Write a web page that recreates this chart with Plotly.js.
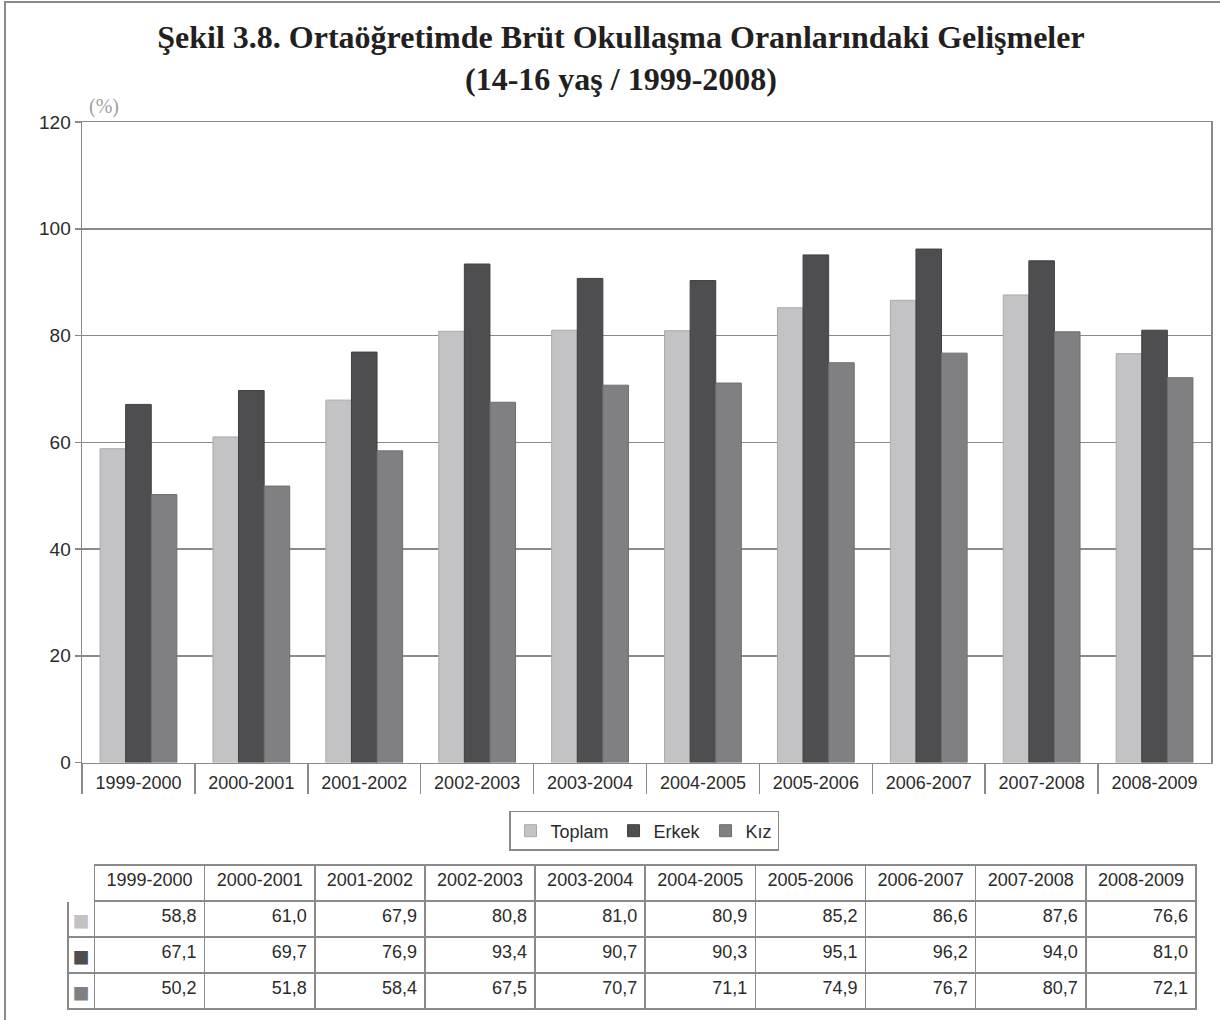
<!DOCTYPE html>
<html>
<head>
<meta charset="utf-8">
<script src="https://cdn.plot.ly/plotly-3.0.1.min.js"></script>
<style>
  html, body { margin: 0; padding: 0; background: #fff; }
  #chart { width: 1220px; height: 1020px; }
</style>
</head>
<body>
<div id="chart"></div>
<script>
const years = ['1999-2000', '2000-2001', '2001-2002', '2002-2003', '2003-2004',
               '2004-2005', '2005-2006', '2006-2007', '2007-2008', '2008-2009'];
const toplam = [58.8, 61.0, 67.9, 80.8, 81.0, 80.9, 85.2, 86.6, 87.6, 76.6];
const erkek  = [67.1, 69.7, 76.9, 93.4, 90.7, 90.3, 95.1, 96.2, 94.0, 81.0];
const kiz    = [50.2, 51.8, 58.4, 67.5, 70.7, 71.1, 74.9, 76.7, 80.7, 72.1];
const seriesNames = ['Toplam', 'Erkek', 'Kız'];
const colors = ['#c3c3c5', '#4e4e50', '#808083'];
const lineColors = ['#a9a9ab', '#404042', '#6e6e71'];

const sansFont = '"Liberation Sans", Arial, sans-serif';
const textColor = '#2b2b2b';
const frameGray = '#8a8a8a';

// helper: decimal comma like the source
const fmt = v => v.toFixed(1).replace('.', ',');

const allSeries = [toplam, erkek, kiz];

const barTraces = allSeries.map((vals, i) => ({
  type: 'bar',
  x: years,
  y: vals,
  name: seriesNames[i],
  marker: { color: colors[i], line: { color: lineColors[i], width: 1 } },
  hoverinfo: 'x+y+name'
}));

// table under the chart: first column holds the series swatches
const tableColumns = [seriesNames.map(() => '■')].concat(
  years.map((_, j) => allSeries.map(s => fmt(s[j])))
);
const cellFontColors = [colors.slice()].concat(years.map(() => allSeries.map(() => textColor)));

const tableTrace = {
  type: 'table',
  domain: { x: [0.02391, 0.98719], y: [0.0, 0.1633] },
  columnwidth: [26.5].concat(years.map(() => 110.2)),
  header: {
    values: [''].concat(years),
    align: 'center',
    height: 36,
    font: { family: sansFont, size: 18, color: textColor },
    fill: { color: 'white' },
    line: { color: ['white'].concat(years.map(() => frameGray)), width: 1.5 }
  },
  cells: {
    values: tableColumns,
    align: ['center'].concat(years.map(() => 'right')),
    height: 36,
    font: { family: sansFont, size: [28].concat(years.map(() => 18)), color: cellFontColors },
    fill: { color: 'white' },
    line: { color: frameGray, width: 1.5 }
  }
};

const layout = {
  width: 1220,
  height: 1020,
  paper_bgcolor: 'white',
  plot_bgcolor: 'white',
  margin: { l: 40, r: 9, t: 122, b: 10 },
  showlegend: true,
  barmode: 'group',
  bargap: 0.32,
  bargroupgap: 0,
  title: {
    text: 'Şekil 3.8. Ortaöğretimde Brüt Okullaşma Oranlarındaki Gelişmeler<br>(14-16 yaş / 1999-2008)',
    font: { family: '"Liberation Serif", "DejaVu Serif", serif', size: 32, color: '#231f20', weight: 'bold' },
    x: 0.509,
    xanchor: 'center',
    xref: 'container',
    y: 0.953,
    yanchor: 'top',
    yref: 'container'
  },
  xaxis: {
    domain: [0.03587, 1],
    type: 'category',
    tickson: 'boundaries',
    ticks: 'outside',
    ticklen: 30,
    tickwidth: 1.5,
    tickcolor: frameGray,
    tickangle: 0,
    ticklabelstandoff: 3,
    showgrid: false,
    showline: true,
    linecolor: frameGray,
    linewidth: 1.5,
    mirror: true,
    tickfont: { family: sansFont, size: 18, color: textColor }
  },
  yaxis: {
    domain: [0.2786, 1],
    range: [0, 120],
    dtick: 20,
    ticks: 'outside',
    ticklen: 6,
    tickwidth: 1.5,
    tickcolor: frameGray,
    showgrid: true,
    gridcolor: frameGray,
    gridwidth: 1.5,
    zeroline: false,
    showline: true,
    linecolor: frameGray,
    linewidth: 1.5,
    mirror: true,
    tickfont: { family: sansFont, size: 19, color: textColor }
  },
  legend: {
    orientation: 'h',
    x: 0.5158,
    xanchor: 'center',
    y: 0.2241,
    yanchor: 'top',
    bordercolor: frameGray,
    borderwidth: 1.5,
    font: { family: sansFont, size: 18, color: textColor },
    itemwidth: 30,
    tracegroupgap: 0
  },
  annotations: [{
    text: '(%)',
    xref: 'paper', yref: 'paper',
    x: 0.0547, y: 1.0169,
    xanchor: 'center', yanchor: 'middle',
    showarrow: false,
    font: { family: '"Liberation Serif", serif', size: 20, color: '#a0a0a0' }
  }],
  shapes: [{
    // outer frame of the figure
    type: 'rect', xref: 'paper', yref: 'paper',
    x0: -0.0299, x1: 1.03, y0: -0.03, y1: 1.1351,
    line: { color: frameGray, width: 2 },
    fillcolor: 'rgba(0,0,0,0)'
  }]
};

Plotly.newPlot('chart', barTraces.concat([tableTrace]), layout, { displayModeBar: false, staticPlot: true });
</script>
</body>
</html>
